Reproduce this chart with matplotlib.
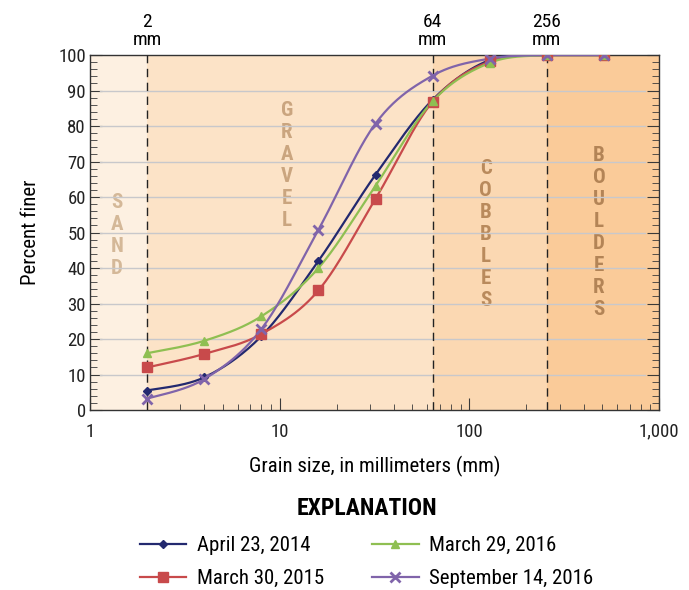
import numpy as np
import matplotlib
matplotlib.use("Agg")
import matplotlib.pyplot as plt
from matplotlib.ticker import FixedLocator, NullFormatter

plt.rcParams['font.family'] = ['Roboto Condensed', 'DejaVu Sans']

# sieve sizes, in millimeters
sizes = [2, 4, 8, 16, 32, 64, 128, 256, 512]

apr_2014 = [5.5, 9.2, 20.8, 42.0, 66.3, 87.4, 98.6, 100, 100]
mar_2015 = [12.0, 15.8, 21.4, 33.7, 59.5, 86.9, 98.2, 100, 100]
mar_2016 = [16.0, 19.5, 26.4, 40.0, 63.2, 87.0, 97.8, 100, 100]
sep_2016 = [3.2, 8.7, 22.8, 50.8, 80.7, 94.2, 99.0, 100, 100]

labels = ["April 23, 2014", "March 30, 2015", "March 29, 2016", "September 14, 2016"]
colors = ["#23296f", "#c84a4b", "#8fbf52", "#8064aa"]
markers = ["D", "s", "^", "x"]

# size classes: (name, lower bound, upper bound, fill colour, text colour)
classes = [("SAND", 1, 2, "#fdf0e1", "#d4b898"),
           ("GRAVEL", 2, 64, "#fce3c7", "#caa57f"),
           ("COBBLES", 64, 256, "#fbd8b2", "#b98a5c"),
           ("BOULDERS", 256, 1000, "#facb99", "#b38456")]
class_text_pos = [(1.39, 49.3), (10.9, 69), (122, 49.5), (482, 50)]
boundaries = [2, 64, 256]


def smooth(x, y, n=40):
    # Catmull-Rom through the points, in log-x / pixel-ish space (like a spreadsheet "smoothed line")
    px = np.log10(x) * 190.0
    py = np.asarray(y, float) * 3.55
    P = np.column_stack([px, py])
    P = np.vstack([P[0], P, P[-1]])
    out = []
    t = np.linspace(0, 1, n)[:, None]
    for k in range(1, len(P) - 2):
        p0, p1, p2, p3 = P[k - 1], P[k], P[k + 1], P[k + 2]
        c1 = p1 + (p2 - p0) / 6.0
        c2 = p2 - (p3 - p1) / 6.0
        seg = (1 - t)**3 * p1 + 3 * (1 - t)**2 * t * c1 + 3 * (1 - t) * t**2 * c2 + t**3 * p2
        out.append(seg)
    out = np.vstack(out)
    return 10**(out[:, 0] / 190.0), np.minimum(out[:, 1] / 3.55, 100)


fig = plt.figure(figsize=(6.89, 5.90), dpi=100)
ax = fig.add_axes([0.1306, 0.305, 0.826, 0.6017])
ax.set_xscale("log")
ax.set_xlim(1, 1000)
ax.set_ylim(0, 100)

for name, lo, hi, fc, tc in classes:
    ax.axvspan(lo, hi, color=fc, lw=0, zorder=0)
for (name, lo, hi, fc, tc), (tx, ty) in zip(classes, class_text_pos):
    ax.text(tx, ty, "\n".join(name), ha="center", va="center", color=tc,
            fontsize=15, fontweight="bold", linespacing=1.2, zorder=1)

for yv in range(10, 100, 10):
    ax.plot([1.13, 840], [yv, yv], color="#c8c8cb", lw=1.0, zorder=2)

for b in boundaries:
    ax.axvline(b, color="#222222", lw=1.0, ls=(0, (6, 4)), zorder=3)
    ax.text(b, 101.8, "%d\nmm" % b, ha="center", va="bottom", fontsize=14,
            linespacing=1.0, clip_on=False)

for vals, lab, c, mk in zip([apr_2014, mar_2015, mar_2016, sep_2016], labels, colors, markers):
    cx, cy = smooth(sizes, vals)
    ax.plot(cx, cy, color=c, lw=1.6, zorder=4)
    ms = {"D": 4, "s": 7, "^": 6, "x": 7}[mk]
    mew = 2 if mk == "x" else 1
    ax.plot(sizes, vals, ls="none", marker=mk, color=c, ms=ms, mew=mew, zorder=5)
    ax.plot([], [], color=c, lw=1.6, marker=mk, ms=ms, mew=mew, label=lab)

ax.xaxis.set_major_locator(FixedLocator([1, 10, 100, 1000]))
ax.xaxis.set_minor_locator(FixedLocator([k * 10**e for e in range(3) for k in range(2, 10)]))
ax.xaxis.set_minor_formatter(NullFormatter())
ax.set_xticklabels(["1", "10", "100", "1,000"])
ax.set_yticks(range(0, 101, 10))
ax.yaxis.set_minor_locator(FixedLocator(range(0, 101, 2)))
ax.tick_params(which="both", direction="in", colors="#3a3a3a", labelcolor="#222222",
               labelsize=13.5, left=True, right=True, top=False, bottom=True)
ax.tick_params(axis="x", which="major", length=8.5, pad=9)
ax.tick_params(axis="x", which="minor", length=4.5)
ax.tick_params(axis="y", which="major", length=8.5, pad=3)
ax.tick_params(axis="y", which="minor", length=5)
for s in ax.spines.values():
    s.set_color("#333333")
    s.set_linewidth(1.0)

ax.set_ylabel("Percent finer", fontsize=15, labelpad=13)
ax.set_xlabel("Grain size, in millimeters (mm)", fontsize=15, labelpad=11)

leg = fig.legend(loc="upper center", bbox_to_anchor=(0.532, 0.19), ncol=2,
                 frameon=False, fontsize=15, handlelength=2.25, columnspacing=2.3,
                 handletextpad=0.5, labelspacing=0.65, title="EXPLANATION",
                 title_fontproperties={"size": 17, "weight": "bold"})
leg._legend_box.sep = 12

fig.savefig("out.png", dpi=100)
